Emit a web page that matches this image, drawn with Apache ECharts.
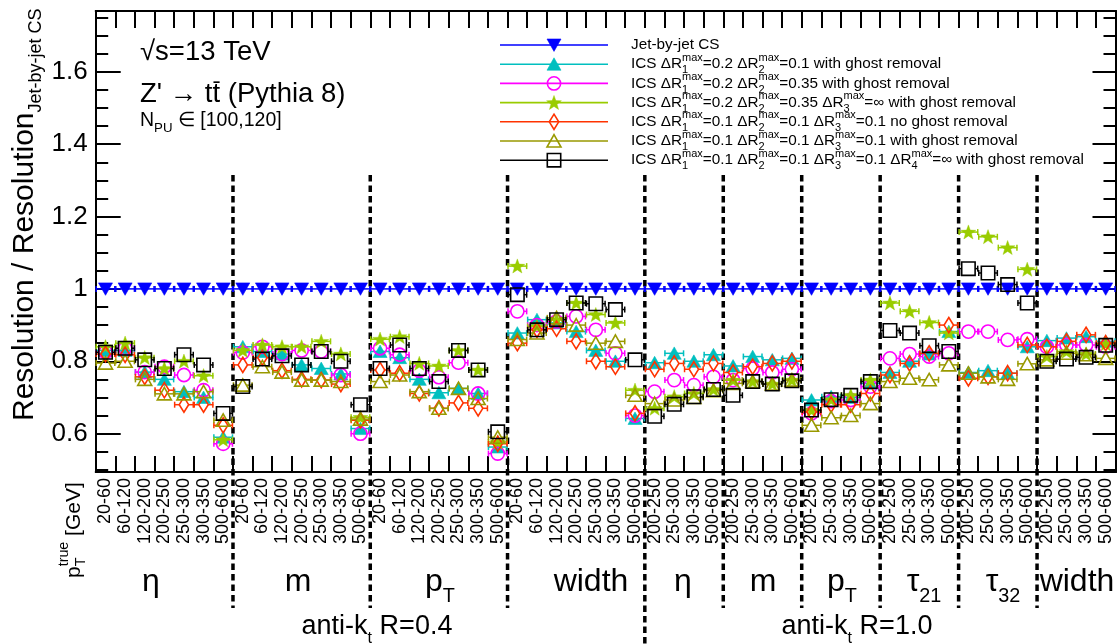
<!DOCTYPE html>
<html>
<head>
<meta charset="utf-8">
<script src="https://cdn.jsdelivr.net/npm/echarts@6.0.0/dist/echarts.min.js"></script>
<style>
html,body{margin:0;padding:0;background:#ffffff;}
#chart{width:1120px;height:644px;}
</style>
</head>
<body>
<div id="chart"></div>
<script>
// ================= DATA =================
const binsR04 = ['20-60','60-120','120-200','200-250','250-300','300-350','500-600'];
const binsR10 = ['200-250','250-300','300-350','500-600'];
const groupBoundaries = [7, 14, 21, 28, 32, 36, 40, 44, 48];
const jetTypeBoundary = 28;
const yMajorTicks = [0.6, 0.8, 1.0, 1.2, 1.4, 1.6];
const yMinorTicks = [0.5,0.55,0.65,0.7,0.75,0.85,0.9,0.95,1.05,1.1,1.15,1.25,1.3,1.35,1.45,1.5,1.55,1.65,1.7,1.75];

const jetByJetCS = [
  1,1,1,1,1,1,1, 1,1,1,1,1,1,1, 1,1,1,1,1,1,1, 1,1,1,1,1,1,1,
  1,1,1,1, 1,1,1,1, 1,1,1,1, 1,1,1,1, 1,1,1,1, 1,1,1,1
];
const ics_02_01_ghost = [
  0.83,0.83,0.77,0.75,0.716,0.70,0.59,
  0.84,0.827,0.82,0.79,0.78,0.765,0.614,
  0.827,0.81,0.75,0.713,0.725,0.711,0.563,
  0.878,0.915,0.906,0.882,0.83,0.80,0.642,
  0.796,0.822,0.80,0.818,
  0.787,0.813,0.804,0.808,
  0.693,0.702,0.70,0.739,
  0.769,0.80,0.82,0.882,
  0.769,0.774,0.767,0.84,
  0.857,0.864,0.868,0.855
];
const ics_02_035_ghost = [
  0.825,0.836,0.77,0.785,0.762,0.72,0.572,
  0.824,0.84,0.82,0.83,0.827,0.762,0.60,
  0.836,0.818,0.774,0.756,0.796,0.711,0.545,
  0.938,0.90,0.91,0.924,0.887,0.822,0.65,
  0.716,0.748,0.734,0.757,
  0.748,0.78,0.769,0.778,
  0.656,0.69,0.693,0.73,
  0.808,0.82,0.813,0.822,
  0.882,0.882,0.859,0.861,
  0.84,0.845,0.845,0.84
];
const ics_02_035_inf_ghost = [
  0.84,0.85,0.81,0.78,0.80,0.76,0.583,
  0.83,0.845,0.84,0.84,0.855,0.82,0.645,
  0.861,0.868,0.794,0.787,0.83,0.776,0.577,
  1.063,0.896,0.915,0.961,0.929,0.906,0.72,
  0.67,0.702,0.711,0.722,
  0.748,0.744,0.737,0.748,
  0.665,0.694,0.706,0.748,
  0.961,0.938,0.907,0.878,
  1.157,1.144,1.114,1.054,
  0.813,0.827,0.82,0.848
];
const ics_01_01_01_noghost = [
  0.82,0.818,0.757,0.72,0.68,0.68,0.623,
  0.79,0.81,0.774,0.75,0.748,0.737,0.637,
  0.776,0.767,0.711,0.67,0.685,0.67,0.572,
  0.85,0.887,0.89,0.855,0.80,0.785,0.656,
  0.778,0.794,0.778,0.794,
  0.769,0.785,0.794,0.80,
  0.66,0.68,0.68,0.711,
  0.762,0.794,0.822,0.90,
  0.753,0.757,0.767,0.845,
  0.84,0.855,0.873,0.85
];
const ics_01_01_01_ghost = [
  0.795,0.80,0.75,0.71,0.71,0.716,0.637,
  0.734,0.785,0.77,0.748,0.748,0.744,0.64,
  0.744,0.762,0.716,0.67,0.725,0.697,0.59,
  0.86,0.878,0.92,0.90,0.85,0.855,0.706,
  0.683,0.693,0.70,0.719,
  0.739,0.744,0.737,0.748,
  0.623,0.644,0.65,0.683,
  0.744,0.753,0.749,0.79,
  0.767,0.757,0.75,0.793,
  0.804,0.822,0.818,0.808
];
const ics_01_01_01_inf_ghost = [
  0.825,0.836,0.804,0.78,0.818,0.79,0.656,
  0.73,0.806,0.815,0.79,0.827,0.80,0.68,
  0.78,0.845,0.78,0.744,0.83,0.776,0.605,
  0.984,0.887,0.915,0.961,0.959,0.943,0.804,
  0.648,0.681,0.702,0.722,
  0.706,0.744,0.737,0.746,
  0.665,0.694,0.706,0.744,
  0.885,0.878,0.843,0.827,
  1.056,1.044,1.012,0.961,
  0.80,0.806,0.811,0.844
];

// legend label tokens (sub/sup scripts)
const S = (sub) => ({sub: sub, sup: 'max'});
const legendLabels = [
  ['Jet-by-jet CS'],
  ['ICS ΔR', S('1'), '=0.2 ΔR', S('2'), '=0.1 with ghost removal'],
  ['ICS ΔR', S('1'), '=0.2 ΔR', S('2'), '=0.35 with ghost removal'],
  ['ICS ΔR', S('1'), '=0.2 ΔR', S('2'), '=0.35 ΔR', S('3'), '=∞ with ghost removal'],
  ['ICS ΔR', S('1'), '=0.1 ΔR', S('2'), '=0.1 ΔR', S('3'), '=0.1 no ghost removal'],
  ['ICS ΔR', S('1'), '=0.1 ΔR', S('2'), '=0.1 ΔR', S('3'), '=0.1 with ghost removal'],
  ['ICS ΔR', S('1'), '=0.1 ΔR', S('2'), '=0.1 ΔR', S('3'), '=0.1 ΔR', S('4'), '=∞ with ghost removal']
];
const groupLabels = [
  ['η'], ['m'], ['p', {sub:'T'}], ['width'],
  ['η'], ['m'], ['p', {sub:'T'}], ['τ', {sub:'21'}], ['τ', {sub:'32'}], ['width']
];

// ================= BUILD =================
const categories = [].concat(binsR04, binsR04, binsR04, binsR04, binsR10, binsR10, binsR10, binsR10, binsR10, binsR10);

const seriesDefs = [
  {name: 'Jet-by-jet CS', values: jetByJetCS, shape: 'tridown', color: '#0000ff'},
  {name: 'ICS 0.2/0.1 ghost', values: ics_02_01_ghost, shape: 'triup', color: '#00bfbf'},
  {name: 'ICS 0.2/0.35 ghost', values: ics_02_035_ghost, shape: 'circle', color: '#ff00ff'},
  {name: 'ICS 0.2/0.35/inf ghost', values: ics_02_035_inf_ghost, shape: 'star', color: '#99cc00'},
  {name: 'ICS 0.1/0.1/0.1 no ghost', values: ics_01_01_01_noghost, shape: 'diamond', color: '#ff3300'},
  {name: 'ICS 0.1/0.1/0.1 ghost', values: ics_01_01_01_ghost, shape: 'otri', color: '#999900'},
  {name: 'ICS 0.1/0.1/0.1/inf ghost', values: ics_01_01_01_inf_ghost, shape: 'square', color: '#000000'}
];

const FF = '"Liberation Sans", Arial, Helvetica, sans-serif';
const mctx = document.createElement('canvas').getContext('2d');
function textW(t, size) { mctx.font = size + 'px ' + FF; return mctx.measureText(t).width; }
function txt(t, x, y, size, color) {
  return {type: 'text', x: x, y: y, silent: true,
    style: {text: t, fontSize: size, fontFamily: FF, fill: color || '#000',
      align: 'left', verticalAlign: 'middle', textAlign: 'left', textVerticalAlign: 'middle'}};
}
function layout(tokens, size, opt) {
  opt = opt || {};
  const sc = opt.scale || 0.68;
  const supDy = opt.supDy != null ? opt.supDy : -0.42;
  const subDy = opt.subDy != null ? opt.subDy : 0.32;
  const color = opt.color || '#000';
  const els = []; let x = 0;
  tokens.forEach(tk => {
    if (typeof tk === 'string') { els.push(txt(tk, x, 0, size, color)); x += textW(tk, size); }
    else if (tk.bar) {
      const w = textW(tk.bar, size);
      els.push(txt(tk.bar, x, 0, size, color));
      els.push({type: 'line', silent: true, shape: {x1: x + 1, y1: -size * 0.43, x2: x + w - 0.5, y2: -size * 0.43},
        style: {stroke: color, lineWidth: Math.max(1, size * 0.06)}});
      x += w;
    } else {
      const ss = size * sc; let w = 0;
      if (tk.sup) { els.push(txt(tk.sup, x, size * supDy, ss, color)); w = Math.max(w, textW(tk.sup, ss)); }
      if (tk.sub) { els.push(txt(tk.sub, x, size * subDy, ss, color)); w = Math.max(w, textW(tk.sub, ss)); }
      x += w;
    }
  });
  return {els: els, width: x};
}
function placed(tokens, size, x, y, opt) {
  opt = opt || {};
  const L = layout(tokens, size, opt);
  const ox = opt.anchor === 'center' ? -L.width / 2 : 0;
  return {type: 'group', x: x, y: y, rotation: opt.rotation || 0, z: 50,
    children: [{type: 'group', x: ox, y: 0, children: L.els}]};
}

function markerEl(shape, x, y, color) {
  const lw = 1.6;
  switch (shape) {
    case 'tridown':
      return {type: 'polygon', shape: {points: [[x - 7, y - 6], [x + 7, y - 6], [x, y + 6.4]]}, style: {fill: color, stroke: color, lineWidth: 0.6}};
    case 'triup':
      return {type: 'polygon', shape: {points: [[x - 7, y + 6], [x + 7, y + 6], [x, y - 6.4]]}, style: {fill: color, stroke: color, lineWidth: 0.6}};
    case 'circle':
      return {type: 'circle', shape: {cx: x, cy: y, r: 6.6}, style: {fill: 'none', stroke: color, lineWidth: lw}};
    case 'star': {
      const pts = [];
      for (let k = 0; k < 10; k++) {
        const r = k % 2 === 0 ? 7.8 : 3.2;
        const a = -Math.PI / 2 + k * Math.PI / 5;
        pts.push([x + r * Math.cos(a), y + 0.6 + r * Math.sin(a)]);
      }
      return {type: 'polygon', shape: {points: pts}, style: {fill: color, stroke: color, lineWidth: 0.4}};
    }
    case 'diamond':
      return {type: 'polygon', shape: {points: [[x, y - 7.6], [x + 4.7, y], [x, y + 7.6], [x - 4.7, y]]}, style: {fill: 'none', stroke: color, lineWidth: lw}};
    case 'otri':
      return {type: 'polygon', shape: {points: [[x - 7, y + 6], [x + 7, y + 6], [x, y - 6.4]]}, style: {fill: 'none', stroke: color, lineWidth: lw}};
    case 'square':
      return {type: 'rect', shape: {x: x - 6.7, y: y - 6.7, width: 13.4, height: 13.4}, style: {fill: 'none', stroke: color, lineWidth: lw}};
  }
}
const markerGap = {tridown: 0, triup: 0, circle: 6.6, star: 0, diamond: 4.7, otri: 3.5, square: 6.7};

function pointRenderer(shape, color) {
  return function (params, api) {
    const i = api.value(0), v = api.value(1);
    const c = api.coord([i, v]);
    const half = api.size([1, 0])[0] / 2;
    const g = markerGap[shape];
    const ls = {stroke: color, lineWidth: 1.5};
    return {type: 'group', children: [
      {type: 'line', shape: {x1: c[0] - half, y1: c[1], x2: c[0] - g, y2: c[1]}, style: ls},
      {type: 'line', shape: {x1: c[0] + g, y1: c[1], x2: c[0] + half, y2: c[1]}, style: ls},
      {type: 'line', shape: {x1: c[0] - half + 0.5, y1: c[1] - 3, x2: c[0] - half + 0.5, y2: c[1] + 3}, style: ls},
      {type: 'line', shape: {x1: c[0] + half - 0.5, y1: c[1] - 3, x2: c[0] + half - 0.5, y2: c[1] + 3}, style: ls},
      markerEl(shape, c[0], c[1], color)
    ]};
  };
}

const series = [];
series.push({
  type: 'custom', name: 'separators', silent: true, clip: false, z: 2,
  data: groupBoundaries.map(b => [b, 1]),
  renderItem: function (params, api) {
    const b = api.value(0);
    const half = api.size([1, 0])[0] / 2;
    const x = api.coord([b, 1])[0] - half;
    const yTop = api.coord([b, 1.315])[1];
    const yBot = b === jetTypeBoundary ? 644 : 608;
    return {type: 'line', shape: {x1: x, y1: yTop, x2: x, y2: yBot}, style: {stroke: '#000', lineWidth: 3.5, lineDash: [6.5, 4]}};
  }
});
seriesDefs.forEach((s, idx) => {
  series.push({
    type: 'custom', name: s.name, silent: true, clip: false, z: 3 + idx,
    data: s.values.map((v, i) => [i, v]),
    renderItem: pointRenderer(s.shape, s.color)
  });
});

// ================= GRAPHIC (texts & legend) =================
const graphics = [];
graphics.push(placed(['Resolution / Resolution', {sub: 'Jet-by-jet CS'}], 30, 25, 421, {rotation: Math.PI / 2, scale: 0.6, subDy: 0.36}));
graphics.push(placed(['p', {sub: 'T', sup: 'true'}, ' [GeV]'], 21, 74, 578, {rotation: Math.PI / 2, subDy: 0.36, supDy: -0.45}));
graphics.push(placed(['√s=13 TeV'], 27.5, 140, 52));
graphics.push(placed(["Z' → t", {bar: 't'}, ' (Pythia 8)'], 27.5, 140, 94));
graphics.push(placed(['N', {sub: 'PU'}, ' ∈ [100,120]'], 19.5, 140, 121, {subDy: 0.4}));

const legendRowY = [45, 64.2, 83.4, 102.6, 121.8, 141, 160.2];
seriesDefs.forEach((s, k) => {
  const y = legendRowY[k];
  graphics.push({type: 'line', z: 50, shape: {x1: 500, y1: y, x2: 608, y2: y}, style: {stroke: s.color, lineWidth: 1.6}});
  const m = markerEl(s.shape, 554, y, s.color); m.z = 51;
  graphics.push(m);
  graphics.push(placed(legendLabels[k], 15.3, 631, y, {scale: 0.72, supDy: -0.42, subDy: 0.4}));
});

const groupLabelX = [151, 298, 440, 591, 683, 763, 842, 924, 1003, 1077];
groupLabels.forEach((g, k) => {
  graphics.push(placed(g, 32, groupLabelX[k], 582, {anchor: 'center', subDy: 0.45, scale: 0.62}));
});
graphics.push(placed(['anti-k', {sub: 't'}, ' R=0.4'], 27, 377, 627, {anchor: 'center', subDy: 0.42, scale: 0.6}));
graphics.push(placed(['anti-k', {sub: 't'}, ' R=1.0'], 27, 857, 627, {anchor: 'center', subDy: 0.42, scale: 0.6}));

// ================= OPTION =================
const axisLineStyle = {color: '#000', width: 2};
function yAxisDef(position, ticks, len, showLabel) {
  return {
    type: 'value', position: position, min: 0.494, max: 1.768, gridIndex: 0,
    splitLine: {show: false},
    axisLine: {show: true, onZero: false, lineStyle: axisLineStyle},
    axisTick: {show: true, inside: true, length: len, customValues: ticks, lineStyle: {color: '#000', width: 2}},
    axisLabel: showLabel ? {show: true, customValues: ticks, fontSize: 26, fontFamily: FF, color: '#000', margin: 8,
      formatter: v => (Math.abs(v - 1) < 1e-9 ? '1' : (+v).toFixed(1))} : {show: false}
  };
}
const option = {
  animation: false,
  backgroundColor: '#ffffff',
  textStyle: {fontFamily: FF},
  grid: {left: 95.7, right: 4.5, top: 11, bottom: 172, containLabel: false},
  xAxis: [
    {type: 'category', data: categories, position: 'bottom', boundaryGap: true,
      axisLine: {show: true, onZero: false, lineStyle: axisLineStyle},
      axisTick: {show: true, inside: true, length: 16, interval: 0, lineStyle: {color: '#000', width: 2}},
      axisLabel: {show: true, interval: 0, rotate: 90, fontSize: 18, fontFamily: FF, color: '#000', margin: 6},
      splitLine: {show: false}},
    {type: 'category', data: categories, position: 'top', boundaryGap: true,
      axisLine: {show: true, onZero: false, lineStyle: axisLineStyle},
      axisTick: {show: true, inside: true, length: 17, interval: 0, lineStyle: {color: '#000', width: 2}},
      axisLabel: {show: false}, splitLine: {show: false}}
  ],
  yAxis: [
    yAxisDef('left', yMajorTicks, 25, true),
    yAxisDef('left', yMinorTicks, 12.5, false),
    yAxisDef('right', yMajorTicks, 23, false),
    yAxisDef('right', yMinorTicks, 12, false)
  ],
  series: series,
  graphic: {elements: graphics}
};

const chart = echarts.init(document.getElementById('chart'), null, {renderer: 'canvas', width: 1120, height: 644});
chart.setOption(option);
</script>
</body>
</html>
